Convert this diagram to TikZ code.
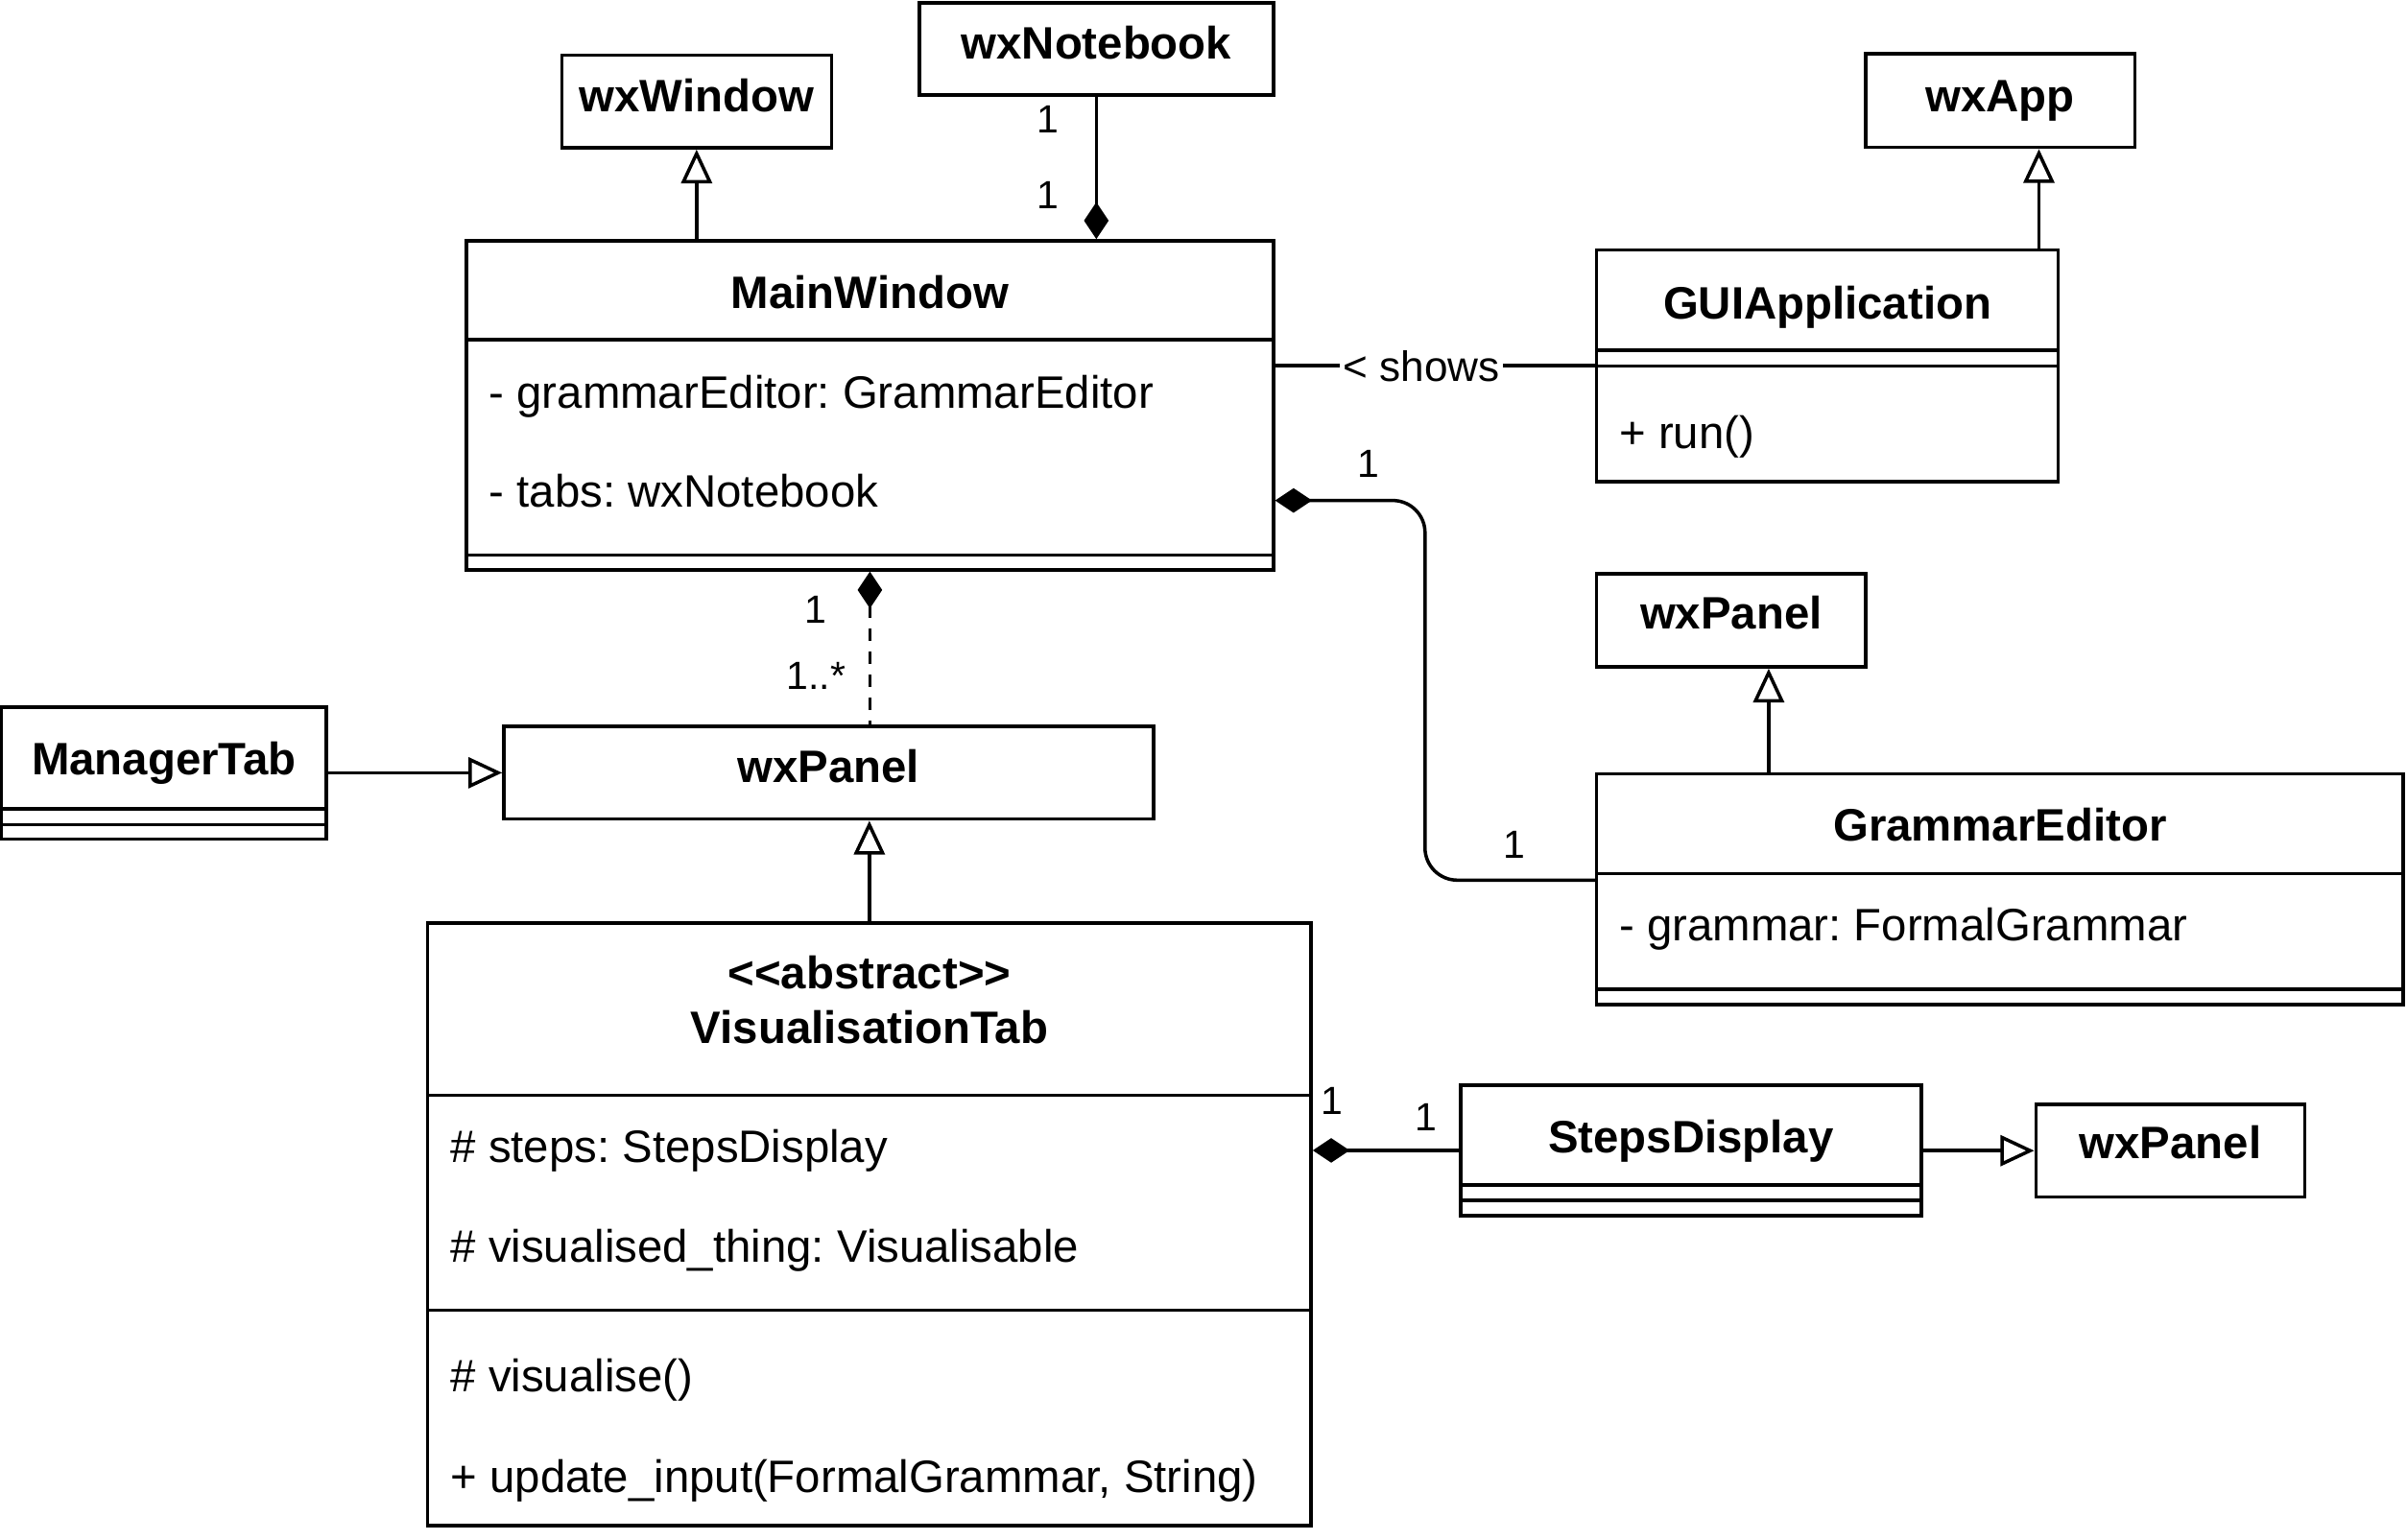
\documentclass[tikz,border=0pt]{standalone}
\usepackage{fontspec}
\setmainfont{Liberation Sans}
\usepackage{tikz}
\usetikzlibrary{arrows.meta}
\usetikzlibrary{fit}
\frenchspacing

\begin{document}
\begin{tikzpicture}[x=0.5pt,y=0.5pt,yscale=-1,xscale=1,line width=1.1pt,
    classbox/.style={draw, inner sep=0pt, fit={#1}},
    title/.style={anchor=base, inner sep=0pt, font=\fontsize{14.8}{17}\selectfont\bfseries},
    attr/.style={anchor=base west, inner sep=0pt, font=\fontsize{14.8}{17}\selectfont},
    mult/.style={anchor=base, inner sep=0pt, font=\fontsize{12.8}{15}\selectfont},
    inherit/.style={-{Triangle[open, length=11pt, width=10pt]}},
    compose/.style={{Diamond[length=12pt, width=8pt]}-}]
    \useasboundingbox (0,0) rectangle (1567.5,1002.5); %keep the frame of the diagram

    %Shape: Class boxes
    \node [classbox={(365.8,36) (541.5,96.3)}] (wxwin) {};
    \node [classbox={(598.6,1.9) (829.3,62)}] (wxnote) {};
    \node [classbox={(1215,35) (1390.3,96)}] (wxapp) {};
    \node [classbox={(303.7,156.8) (829.3,371.2)}] (mainwin) {};
    \node [classbox={(1039.8,162.9) (1340.2,313.6)}] (guiapp) {};
    \node [classbox={(1039.8,373.8) (1215,434.4)}] (panelB) {};
    \node [classbox={(1039.8,504.1) (1565,654.2)}] (grameditor) {};
    \node [classbox={(1,460.7) (212.6,546.4)}] (mgrtab) {};
    \node [classbox={(328.1,473.2) (751.1,533.5)}] (panelA) {};
    \node [classbox={(278.5,601.3) (853.8,993.8)}] (vistab) {};
    \node [classbox={(951.2,706.7) (1251.2,792)}] (stepsdisp) {};
    \node [classbox={(1325.8,719.4) (1501,779.6)}] (panelC) {};

    %Straight Lines: compartments
    \draw (303.7,221.3) -- (829.3,221.3) ;
    \draw (303.7,361.5) -- (829.3,361.5) ;
    \draw (1039.8,228.1) -- (1340.2,228.1) ;
    \draw (1039.8,238.4) -- (1340.2,238.4) ;
    \draw (1039.8,569) -- (1565,569) ;
    \draw (1039.8,644.2) -- (1565,644.2) ;
    \draw (1,526.9) -- (212.6,526.9) ;
    \draw (1,537.3) -- (212.6,537.3) ;
    \draw (278.5,713.3) -- (853.8,713.3) ;
    \draw (278.5,853.5) -- (853.8,853.5) ;
    \draw (951.2,771.9) -- (1251.2,771.9) ;
    \draw (951.2,781.9) -- (1251.2,781.9) ;

    % Text Node: class names
    \node [title] (wxwin-t) at (453.6,73) {wxWindow};
    \node [title] (wxnote-t) at (714,38.2) {wxNotebook};
    \node [title] (wxapp-t) at (1302.6,72.5) {wxApp};
    \node [title] (mainwin-t) at (566.5,201.2) {MainWindow};
    \node [title] (guiapp-t) at (1190,207.6) {GUIApplication};
    \node [title] (panelB-t) at (1127.4,409.7) {wxPanel};
    \node [title] (grameditor-t) at (1302.4,548) {GrammarEditor};
    \node [title] (mgrtab-t) at (106.8,504.8) {ManagerTab};
    \node [title] (panelA-t) at (539.6,509.4) {wxPanel};
    \node [title] (vistab-s) at (566.2,644.2) {<{}<abstract>{}>};
    \node [title] (vistab-t) at (566.2,679.6) {VisualisationTab};
    \node [title] (stepsdisp-t) at (1101.2,751) {StepsDisplay};
    \node [title] (panelC-t) at (1413.4,754.7) {wxPanel};

    % Text Node: members
    \node [attr] (mw-a1) at (317.5,266.2) {- grammarEditor: GrammarEditor};
    \node [attr] (mw-a2) at (317.5,330.3) {- tabs: wxNotebook};
    \node [attr] (ga-m1) at (1053.4,292.4) {+ run()};
    \node [attr] (ge-a1) at (1053.4,612.6) {- grammar: FormalGrammar};
    \node [attr] (vt-a1) at (292.4,757) {\# steps: StepsDisplay};
    \node [attr] (vt-a2) at (292.4,822.3) {\# visualised\_thing: Visualisable};
    \node [attr] (vt-m1) at (292.4,906.4) {\# visualise()};
    \node [attr] (vt-m2) at (292.4,972.1) {+ update\_input(FormalGrammar, String)};

    %Straight Lines: relations
    \draw [inherit] (wxwin.south |- mainwin.north) -- (wxwin.south) ;
    \draw [compose] (wxnote.south |- mainwin.north) -- (wxnote.south) ;
    \draw [inherit] ([xshift=-6.75pt]guiapp.north east) -- ([xshift=-6.75pt]guiapp.north east |- wxapp.south) ;
    \draw [inherit] ([xshift=56.55pt]grameditor.north west) -- ([xshift=56.55pt]grameditor.north west |- panelB.south) ;
    \draw (mainwin.east |- guiapp.west) -- node [pos=0.457, fill=white, inner sep=1pt, font=\fontsize{13.8}{16}\selectfont] (shows) {< shows} (guiapp.west) ;
    \coordinate (bendA) at (928,326) ;
    \coordinate (bendB) at (928,573.3) ;
    \draw [compose, rounded corners=10.5pt] (mainwin.east |- bendA) -- (bendA) -- (bendB) -- (grameditor.west |- bendB) ;
    \draw [compose, dash pattern={on 4pt off 3.5pt}] (mainwin.south) -- (mainwin.south |- panelA.north) ;
    \draw [inherit] (vistab.north) -- (vistab.north |- panelA.south) ;
    \draw [inherit] (mgrtab.east |- panelA.west) -- (panelA.west) ;
    \draw [compose] (vistab.east |- stepsdisp.west) -- (stepsdisp.west) ;
    \draw [inherit] (stepsdisp.east |- panelC.west) -- (panelC.west) ;

    % Text Node: multiplicities
    \node [mult] (m-note1) at (682.3,86.6) {1};
    \node [mult] (m-note2) at (682.3,136) {1};
    \node [mult] (m-ge1) at (891,310.7) {1};
    \node [mult] (m-ge2) at (986.4,558.9) {1};
    \node [mult] (m-tab1) at (531,406) {1};
    \node [mult] (m-tab2) at (531.5,449) {1..*};
    \node [mult] (m-sd1) at (867.6,726) {1};
    \node [mult] (m-sd2) at (928.5,736.6) {1};

\end{tikzpicture}
\end{document}
